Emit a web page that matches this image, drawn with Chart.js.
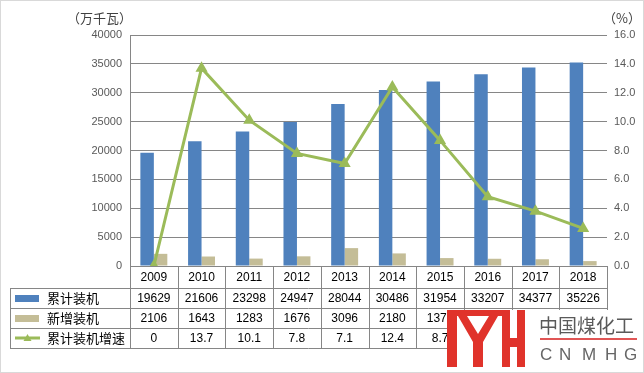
<!DOCTYPE html>
<html>
<head>
<meta charset="utf-8">
<script src="https://cdn.jsdelivr.net/npm/chart.js@4"></script>
<style>
  body { margin: 0; background: #fff; }
  #wrap { width: 644px; height: 373px; position: relative; }
</style>
</head>
<body>
<div id="wrap"><canvas id="Chart"></canvas></div>
<script>
let years = ['2009','2010','2011','2012','2013','2014','2015','2016','2017','2018'];
let totalCap = [19629,21606,23298,24947,28044,30486,31954,33207,34377,35226];
let newCap = [2106,1643,1283,1676,3096,2180,1372,1253,1170,849];
let growthRate = [0,13.7,10.1,7.8,7.1,12.4,8.7,4.8,3.8,2.6];
let seriesNames = ['累计装机','新增装机','累计装机增速'];

let graph = document.getElementById('Chart');
let gridColor = '#868686';
let numFont = '12px "Liberation Sans", Arial, sans-serif';
let cjkFont = '13px "Noto Sans CJK SC", sans-serif';

// data table + titles + logo drawn under the plot
let tablePlugin = {
    id: 'dataTable',
    afterDraw(chart) {
        let ctx = chart.ctx;
        let x = chart.scales.x;
        let area = chart.chartArea;
        let colW = (area.right - area.left) / years.length;
        let top = area.bottom;
        let rows = [top, top + 22, top + 42, top + 62, top + 82];
        let leftEdge = 10;

        ctx.save();
        // outer chart border
        ctx.strokeStyle = '#d9d9d9';
        ctx.lineWidth = 1;
        ctx.strokeRect(0.5, 0.5, 643, 372);

        // grid of the table
        ctx.strokeStyle = gridColor;
        ctx.beginPath();
        for (let r = 1; r < rows.length; r++) {
            ctx.moveTo(leftEdge, rows[r] + 0.5);
            ctx.lineTo(area.right, rows[r] + 0.5);
        }
        for (let i = 0; i <= years.length; i++) {
            let px = Math.round(area.left + i * colW) + 0.5;
            ctx.moveTo(px, rows[0]);
            ctx.lineTo(px, rows[4]);
        }
        ctx.moveTo(leftEdge + 0.5, rows[1]);
        ctx.lineTo(leftEdge + 0.5, rows[4]);
        ctx.stroke();

        // cell text
        ctx.fillStyle = '#000';
        ctx.textAlign = 'center';
        ctx.textBaseline = 'middle';
        ctx.font = numFont;
        let tableRows = [years, totalCap, newCap, growthRate];
        for (let i = 0; i < years.length; i++) {
            let cx = x.getPixelForValue(i);
            for (let r = 0; r < 4; r++) {
                ctx.fillText(String(tableRows[r][i]), cx, (rows[r] + rows[r + 1]) / 2 + 1);
            }
        }

        // legend keys
        let mid1 = (rows[1] + rows[2]) / 2, mid2 = (rows[2] + rows[3]) / 2, mid3 = (rows[3] + rows[4]) / 2;
        ctx.fillStyle = '#4F81BD';
        ctx.fillRect(15, mid1 - 3, 24, 7);
        ctx.fillStyle = '#C4BD97';
        ctx.fillRect(15, mid2 - 3, 24, 7);
        ctx.strokeStyle = '#9BBB59';
        ctx.lineWidth = 3;
        ctx.beginPath();
        ctx.moveTo(15, mid3);
        ctx.lineTo(40, mid3);
        ctx.stroke();
        ctx.fillStyle = '#9BBB59';
        ctx.beginPath();
        ctx.moveTo(27.5, mid3 - 4);
        ctx.lineTo(31.5, mid3 + 3);
        ctx.lineTo(23.5, mid3 + 3);
        ctx.closePath();
        ctx.fill();

        ctx.fillStyle = '#000';
        ctx.textAlign = 'left';
        ctx.font = cjkFont;
        ctx.fillText(seriesNames[0], 47, mid1);
        ctx.fillText(seriesNames[1], 47, mid2);
        ctx.fillText(seriesNames[2], 47, mid3);

        // axis titles
        ctx.fillStyle = '#404040';
        ctx.fillText('（万千瓦）', 67, 18);
        ctx.fillText('（%）', 603, 18);

        // watermark logo
        ctx.fillStyle = '#fff';
        ctx.fillRect(447, 310, 195, 60);
        ctx.fillStyle = '#E0332B';
        ctx.fillRect(447, 310, 10, 57);
        ctx.fillRect(447, 310, 56, 6);
        ctx.beginPath();
        ctx.moveTo(458, 316); ctx.lineTo(467, 316); ctx.lineTo(478, 334);
        ctx.lineTo(489, 316); ctx.lineTo(498, 316); ctx.lineTo(483, 342);
        ctx.lineTo(483, 367); ctx.lineTo(473, 367); ctx.lineTo(473, 342);
        ctx.closePath();
        ctx.fill();
        ctx.fillRect(502, 310, 8, 57);
        ctx.fillRect(510, 338, 8, 9);
        ctx.fillRect(517, 310, 8, 57);

        ctx.fillStyle = '#5a5a5a';
        ctx.font = '19px "Noto Sans CJK SC", sans-serif';
        ctx.textBaseline = 'alphabetic';
        ctx.fillText('中国煤化工', 539, 333);
        ctx.fillStyle = '#E05555';
        ctx.fillRect(540, 338, 97, 2);
        ctx.fillStyle = '#666';
        ctx.font = '17px "Liberation Sans", Arial, sans-serif';
        let letters = ['C','N','M','H','G'];
        let lx = [540, 559, 582, 605, 624];
        letters.forEach((l, i) => ctx.fillText(l, lx[i], 360));
        ctx.restore();
    }
};

let chartData = {
    type: 'bar',
    data: {
        labels: years,
        datasets: [
            {
                type: 'line',
                label: seriesNames[2],
                data: growthRate,
                yAxisID: 'y1',
                borderColor: '#9BBB59',
                backgroundColor: '#9BBB59',
                borderWidth: 3,
                pointStyle: 'triangle',
                pointRadius: 4,
                tension: 0,
                order: 0
            },
            {
                label: seriesNames[0],
                data: totalCap,
                yAxisID: 'y',
                backgroundColor: '#4F81BD',
                categoryPercentage: 0.565,
                barPercentage: 1,
                order: 1
            },
            {
                label: seriesNames[1],
                data: newCap,
                yAxisID: 'y',
                backgroundColor: '#C4BD97',
                categoryPercentage: 0.565,
                barPercentage: 1,
                order: 1
            }
        ]
    },
    options: {
        responsive: true,
        maintainAspectRatio: false,
        animation: false,
        devicePixelRatio: 1,
        layout: { padding: { top: 35, bottom: 107, left: 0, right: 0 } },
        plugins: { legend: { display: false }, tooltip: { enabled: false } },
        scales: {
            x: {
                ticks: { display: false },
                grid: { display: false },
                border: { display: false },
                afterFit(scale) { scale.height = 0; }
            },
            y: {
                position: 'left',
                min: 0, max: 40000,
                ticks: { stepSize: 5000, color: '#595959', padding: 8, font: { size: 11, family: '"Liberation Sans", Arial' },
                    callback: v => String(v) },
                grid: { color: gridColor, drawTicks: false },
                border: { display: true, color: gridColor },
                afterFit(scale) { scale.width = 130; }
            },
            y1: {
                position: 'right',
                min: 0, max: 16,
                ticks: { stepSize: 2, color: '#595959', padding: 7, font: { size: 11, family: '"Liberation Sans", Arial' },
                    callback: v => v.toFixed(1) },
                grid: { display: false, drawTicks: false },
                border: { display: false },
                afterFit(scale) { scale.width = 37; }
            }
        }
    },
    plugins: [tablePlugin]
};

let presentdata = new Chart(graph, chartData);
</script>
</body>
</html>
